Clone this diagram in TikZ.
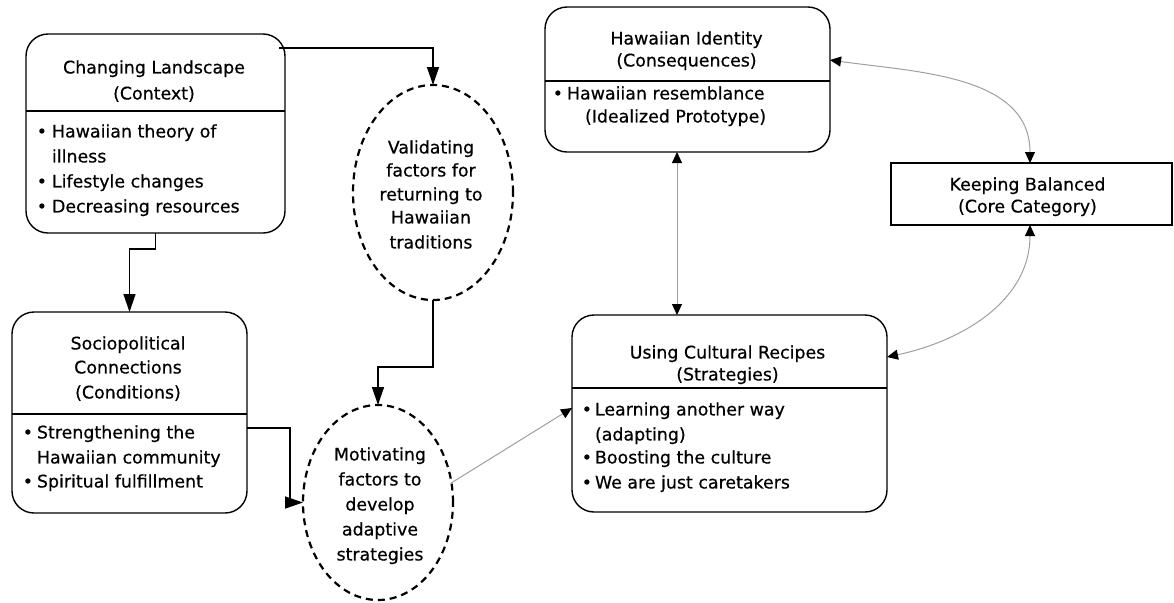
\documentclass[tikz,border=0pt]{standalone}
\usepackage{fontspec}
\setmainfont{DejaVu Sans}
\newfontfamily\diafont[FakeBold=0.5]{DejaVu Sans}
\usetikzlibrary{arrows.meta,shapes.geometric}
\newcommand\bul[1]{\llap{•\kern#1}}
\begin{document}
\begin{tikzpicture}[x=0.5pt,y=-0.5pt,
  every node/.style={font=\diafont\fontsize{8.7}{11}\selectfont, inner sep=0pt, outer sep=0pt},
  box/.style={draw, line width=0.7pt, rounded corners=11pt},
  core/.style={draw, line width=1.1pt},
  ell/.style={draw, ellipse, dash pattern=on 3.5pt off 2.5pt, line width=1.1pt},
  ttl/.style={anchor=mid},
  itm/.style={anchor=mid west},
  divider/.style={line width=0.7pt},
  arr/.style={line width=0.7pt, -{Triangle[length=9pt,width=6pt]}},
  garr/.style={line width=0.5pt, draw=gray!75, -{Triangle[length=5.5pt,width=5pt,color=black]}},
  gdarr/.style={line width=0.5pt, draw=gray!75, {Triangle[length=5.5pt,width=5pt,color=black]}-{Triangle[length=5.5pt,width=5pt,color=black]}}
]
\useasboundingbox (0,0) rectangle (1174,602);

% boxes
\node[box, minimum width=129.5pt, minimum height=99.5pt] (b1) at (155.5,133.5) {};
\node[box, minimum width=117.5pt, minimum height=100.5pt] (b2) at (129.5,412.5) {};
\node[box, minimum width=142.5pt, minimum height=72.5pt] (b3) at (687.5,79.5) {};
\node[box, minimum width=157.5pt, minimum height=98.5pt] (b4) at (729.5,413.5) {};
\node[core, minimum width=140.5pt, minimum height=31pt] (b5) at (1031.5,194) {};
\node[ell, minimum width=80pt, minimum height=107.5pt] (e1) at (433,192.5) {};
\node[ell, minimum width=75pt, minimum height=97.5pt] (e2) at (378,502.5) {};

% dividers
\draw[divider] (b1.west |- 0,111) -- (b1.east |- 0,111);
\draw[divider] (b2.west |- 0,414) -- (b2.east |- 0,414);
\draw[divider] (b3.west |- 0,81) -- (b3.east |- 0,81);
\draw[divider] (b4.west |- 0,388) -- (b4.east |- 0,388);

% box 1 text
\node[ttl] (t1a) at (154,68) {Changing Landscape};
\node[ttl] (t1b) at (154,94) {(Context)};
\node[itm] (i1a) at (52,132) {\bul{2.5pt}Hawaiian theory of};
\node[itm] (i1b) at (52,157) {illness};
\node[itm] (i1c) at (52,182) {\bul{2.5pt}Lifestyle changes};
\node[itm] (i1d) at (52,207) {\bul{2.5pt}Decreasing resources};

% ellipse 1 text
\node[ttl] (v1) at (431,148) {Validating};
\node[ttl] (v2) at (431,171) {factors for};
\node[ttl] (v3) at (431,195) {returning to};
\node[ttl] (v4) at (431,218) {Hawaiian};
\node[ttl] (v5) at (431,243) {traditions};

% box 2 text
\node[ttl] (t2a) at (128,344) {Sociopolitical};
\node[ttl] (t2b) at (128,368) {Connections};
\node[ttl] (t2c) at (128,393) {(Conditions)};
\node[itm] (i2a) at (37,433) {\bul{2pt}Strengthening the};
\node[itm] (i2b) at (37,458) {Hawaiian community};
\node[itm] (i2c) at (37,482) {\bul{2pt}Spiritual fulfillment};

% ellipse 2 text
\node[ttl] (m1) at (380,455) {Motivating};
\node[ttl] (m2) at (380,480) {factors to};
\node[ttl] (m3) at (380,505) {develop};
\node[ttl] (m4) at (380,530) {adaptive};
\node[ttl] (m5) at (380,555) {strategies};

% box 3 text
\node[ttl] (t3a) at (686.5,39) {Hawaiian Identity};
\node[ttl] (t3b) at (686.5,61) {(Consequences)};
\node[itm] (i3a) at (567,94) {\bul{2pt}Hawaiian resemblance};
\node[itm] (i3b) at (585,117) {(Idealized Prototype)};

% box 4 text
\node[ttl] (t4a) at (727.5,353) {Using Cultural Recipes};
\node[ttl] (t4b) at (727.5,375) {(Strategies)};
\node[itm] (i4a) at (595,410) {\bul{1.5pt}Learning another way};
\node[itm] (i4b) at (595,435) {(adapting)};
\node[itm] (i4c) at (595,458) {\bul{1.5pt}Boosting the culture};
\node[itm] (i4d) at (595,483) {\bul{1.5pt}We are just caretakers};

% box 5 text
\node[ttl] (t5a) at (1027.5,185) {Keeping Balanced};
\node[ttl] (t5b) at (1027.5,207) {(Core Category)};

% connectors
\coordinate (c1s) at (279,48);
\draw[arr] (c1s) -| (e1.north);
\draw[arr] (b1.south) -- ++(0,16) -| (b2.north);
\draw[arr] (b2.east |- 0,428) -- (290,428) |- (e2.west);
\draw[arr] (e1.south) -- ++(0,67) -| (e2.north);
\draw[garr] (e2.15) -- (b4.west |- 0,408);
\draw[gdarr] (b3.south -| 677,0) -- (b4.north -| 677,0);
\draw[gdarr] (b3.east |- 0,60) to[out=-8,in=90] (b5.north -| 1030,0);
\draw[gdarr] (b5.south -| 1030,0) to[out=-90,in=12] (b4.east |- 0,357);
\end{tikzpicture}
\end{document}
